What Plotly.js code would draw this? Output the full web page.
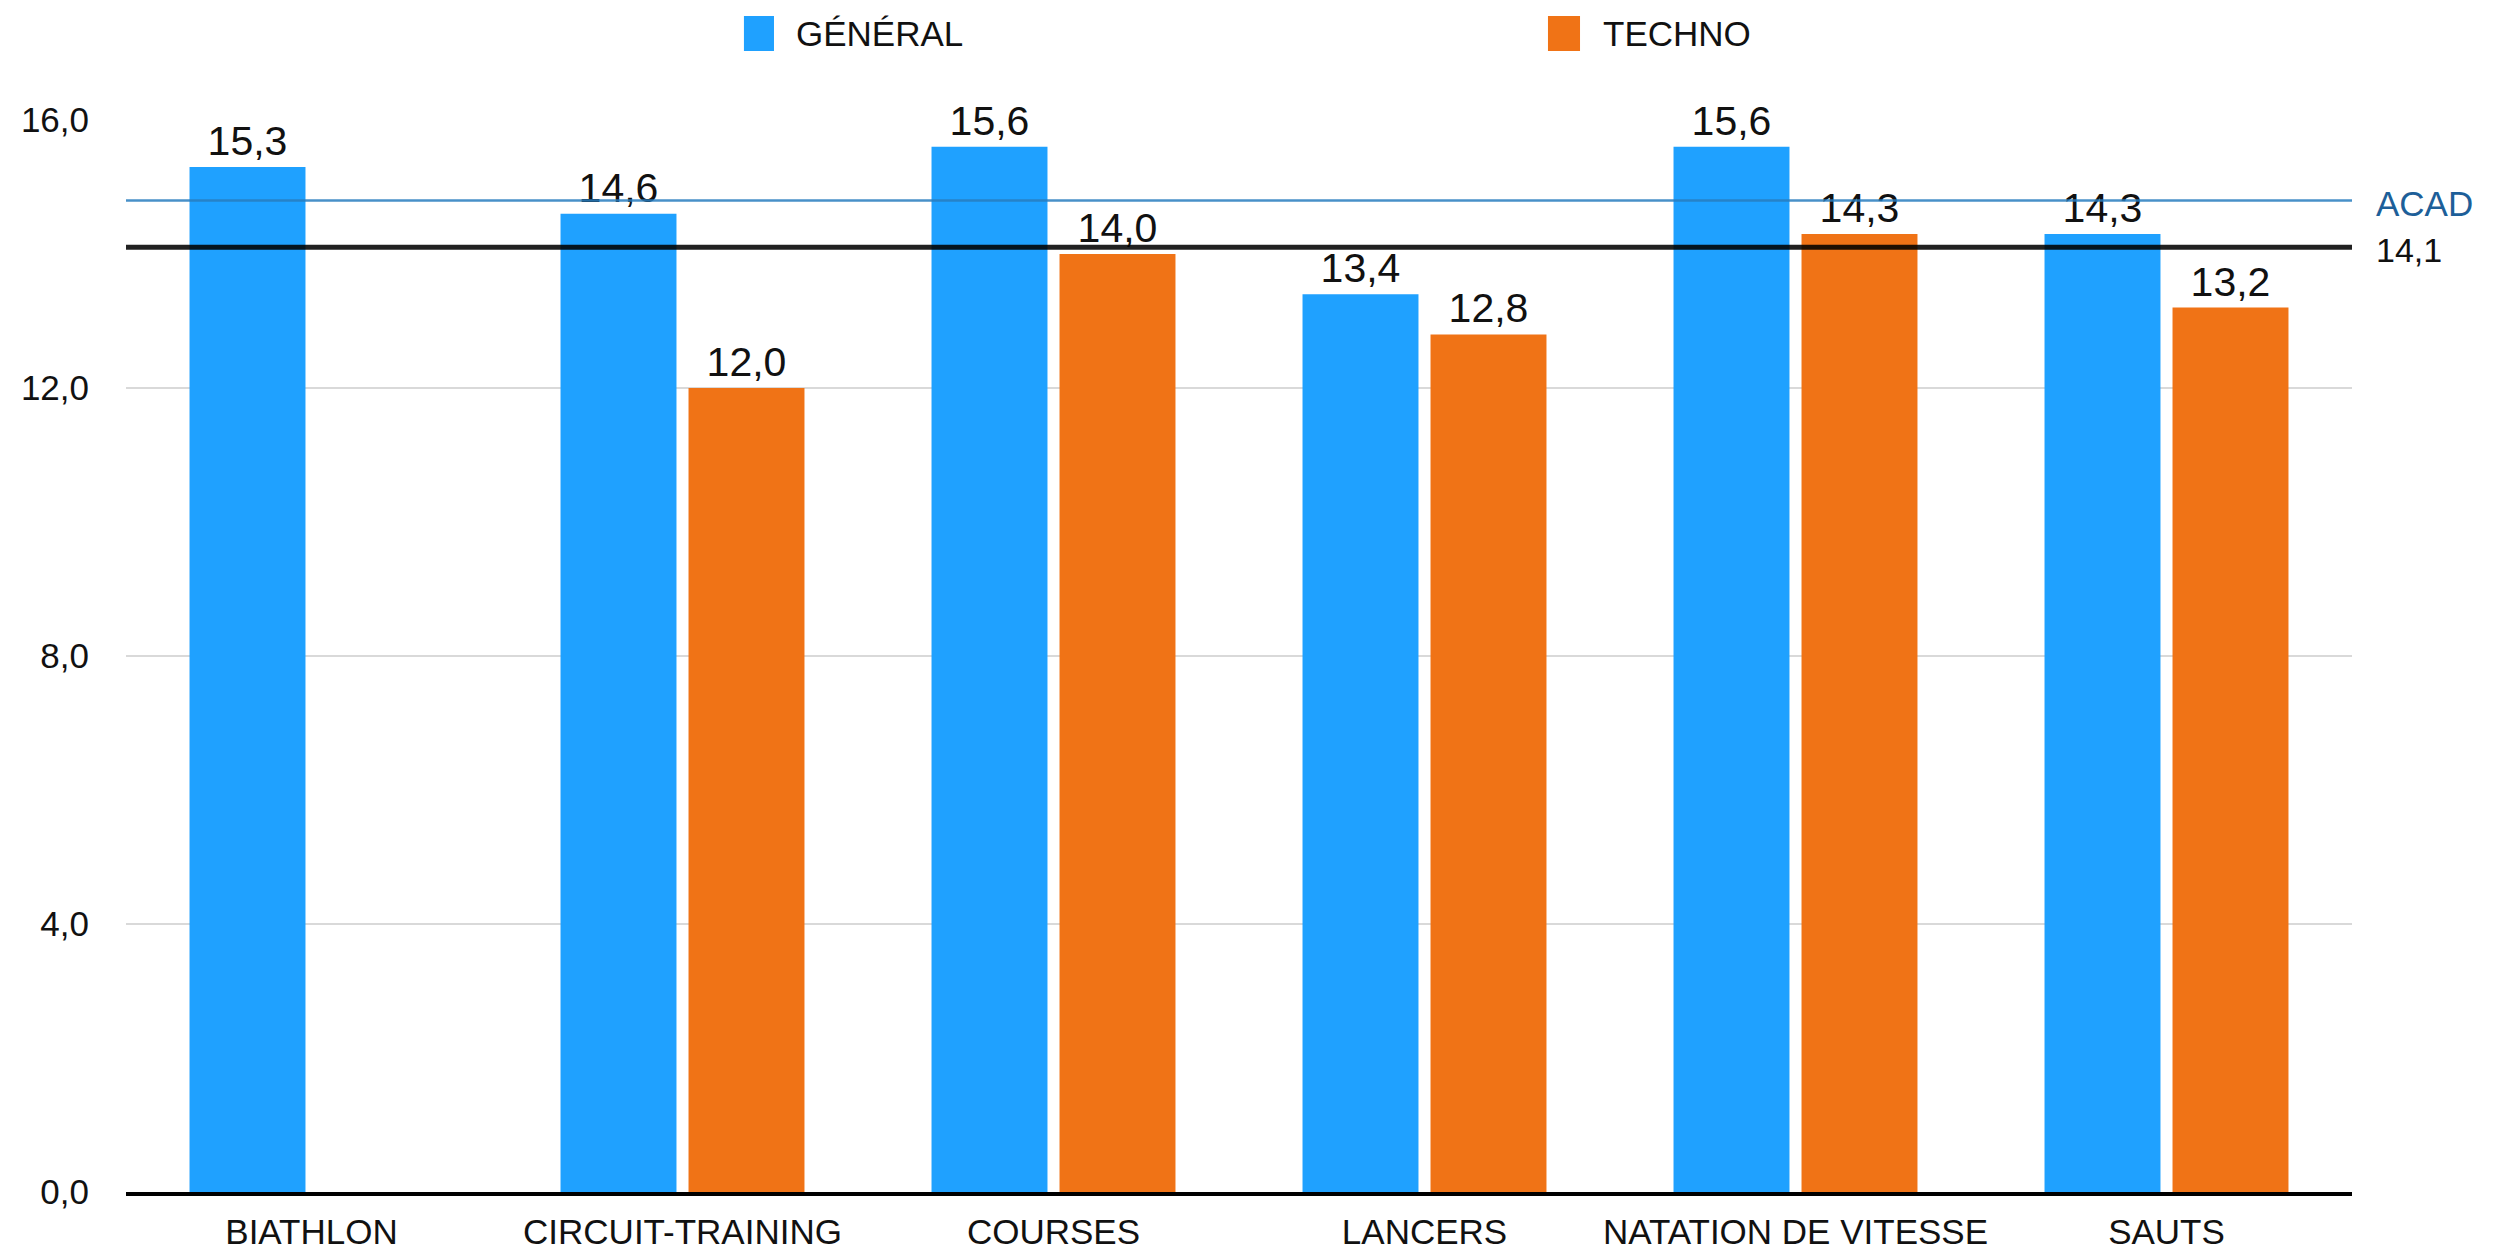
<!DOCTYPE html>
<html>
<head>
<meta charset="utf-8">
<script src="https://cdn.plot.ly/plotly-3.0.1.min.js"></script>
<style>
  html, body { margin: 0; padding: 0; background: #ffffff; }
  #chart { width: 2507px; height: 1255px; }
</style>
</head>
<body>
<div id="chart"></div>
<script>
// ---- data ----
const categories = ["BIATHLON", "CIRCUIT-TRAINING", "COURSES", "LANCERS", "NATATION DE VITESSE", "SAUTS"];
const seriesNames = ["GÉNÉRAL", "TECHNO"];
const generalValues = [15.3, 14.6, 15.6, 13.4, 15.6, 14.3];
const technoValues = [null, 12.0, 14.0, 12.8, 14.3, 13.2];
const acadValue = 14.8;
const acadLabel = "ACAD";
const refValue = 14.1;
const yTickValues = [0, 4, 8, 12, 16];

// ---- styles ----
const BLUE = "#1fa1ff";
const ORANGE = "#f07316";
const FONT = "Liberation Sans, Arial, Helvetica, sans-serif";

const traces = [
  {
    type: "bar", name: seriesNames[0], x: categories, y: generalValues,
    marker: { color: BLUE },
    texttemplate: "%{y:.1f}", textposition: "outside",
    textfont: { family: FONT, size: 41, color: "#111" }, cliponaxis: false,
    hoverinfo: "x+y", showlegend: false
  },
  {
    type: "bar", name: seriesNames[1], x: categories, y: technoValues,
    marker: { color: ORANGE },
    texttemplate: "%{y:.1f}", textposition: "outside",
    textfont: { family: FONT, size: 41, color: "#111" }, cliponaxis: false,
    hoverinfo: "x+y", showlegend: false
  }
];

const layout = {
  width: 2507, height: 1255,
  margin: { l: 126, r: 155, t: 120, b: 63 },
  paper_bgcolor: "#ffffff", plot_bgcolor: "#ffffff",
  separators: ", ",
  font: { family: FONT, size: 35, color: "#111" },
  barmode: "group", bargap: 0.31, bargroupgap: 0.094,
  showlegend: false,
  xaxis: {
    type: "category", showgrid: false, zeroline: false,
    showline: true, linecolor: "#000", linewidth: 4,
    ticks: "", ticklabelstandoff: 6,
    tickfont: { family: FONT, size: 35, color: "#111" }
  },
  yaxis: {
    range: [0, 16], tickvals: yTickValues, tickformat: ".1f",
    showgrid: true, gridcolor: "#d9d9d9", gridwidth: 2,
    zeroline: false, showline: false, ticks: "",
    ticklabelstandoff: 36,
    tickfont: { family: FONT, size: 35, color: "#111" }
  },
  shapes: [
    { type: "line", xref: "paper", x0: 0, x1: 1, yref: "y", y0: acadValue, y1: acadValue,
      line: { color: "rgba(40,125,190,0.85)", width: 2.5 }, layer: "above" },
    { type: "line", xref: "paper", x0: 0, x1: 1, yref: "y", y0: refValue, y1: refValue,
      line: { color: "rgba(0,0,0,0.87)", width: 5 }, layer: "above" },
    // legend swatches
    { type: "rect", xref: "paper", yref: "paper", x0: 0.2776, x1: 0.2911, y0: 1.0644, y1: 1.097,
      fillcolor: BLUE, line: { width: 0 } },
    { type: "rect", xref: "paper", yref: "paper", x0: 0.6388, x1: 0.6532, y0: 1.0644, y1: 1.097,
      fillcolor: ORANGE, line: { width: 0 } }
  ],
  annotations: [
    { xref: "paper", yref: "y", x: 1, y: acadValue, xanchor: "left", yanchor: "middle",
      xshift: 22, yshift: -3, text: acadLabel, showarrow: false,
      font: { family: FONT, size: 35, color: "#1d5f99" } },
    { xref: "paper", yref: "y", x: 1, y: refValue, xanchor: "left", yanchor: "middle",
      xshift: 22, yshift: -3, text: refValue.toFixed(1).replace(".", ","), showarrow: false,
      font: { family: FONT, size: 34, color: "#111" } },
    { xref: "paper", yref: "paper", x: 0.300, y: 1.0807, xanchor: "left", yanchor: "middle",
      text: seriesNames[0], showarrow: false, font: { family: FONT, size: 35, color: "#111" } },
    { xref: "paper", yref: "paper", x: 0.6625, y: 1.0807, xanchor: "left", yanchor: "middle",
      text: seriesNames[1], showarrow: false, font: { family: FONT, size: 35, color: "#111" } }
  ]
};

Plotly.newPlot("chart", traces, layout, { staticPlot: true, displayModeBar: false });
</script>
</body>
</html>
